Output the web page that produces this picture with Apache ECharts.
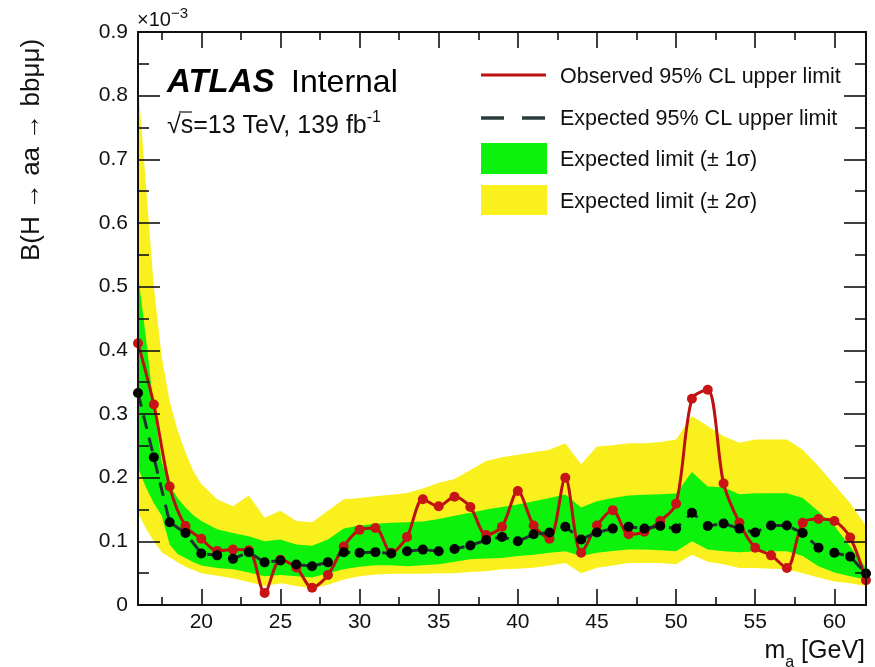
<!DOCTYPE html>
<html>
<head>
<meta charset="utf-8">
<script src="https://cdn.jsdelivr.net/npm/echarts@6/dist/echarts.min.js"></script>
<style>
  html, body { margin: 0; padding: 0; background: #ffffff; }
  #chart { width: 875px; height: 667px; }
</style>
</head>
<body>
<div id="chart"></div>
<script>
// Mass hypotheses (GeV) of the limit scan
const massPoints = [16, 17, 18, 19, 20, 21, 22, 23, 24, 25, 26, 27, 28, 29, 30, 31, 32, 33, 34, 35, 36, 37, 38, 39,
  40, 41, 42, 43, 44, 45, 46, 47, 48, 49, 50, 51, 52, 53, 54, 55, 56, 57, 58, 59, 60, 61, 62];

// Observed 95% CL upper limit on B(H -> aa -> bbmumu), in units of 1e-3
const observedLimit = [0.411, 0.315, 0.186, 0.124, 0.104, 0.085, 0.087, 0.086, 0.019, 0.071, 0.059, 0.027,
  0.047, 0.092, 0.118, 0.121, 0.082, 0.107, 0.166, 0.155, 0.170, 0.154, 0.110, 0.123, 0.179, 0.125, 0.104,
  0.200, 0.082, 0.125, 0.149, 0.111, 0.115, 0.132, 0.159, 0.324, 0.338, 0.191, 0.129, 0.090, 0.078, 0.058,
  0.129, 0.135, 0.132, 0.106, 0.039];

// Expected (median) 95% CL upper limit, in units of 1e-3
const expectedLimit = [0.333, 0.232, 0.130, 0.113, 0.081, 0.078, 0.0725, 0.083, 0.067, 0.070, 0.0636, 0.061,
  0.067, 0.083, 0.082, 0.083, 0.081, 0.0845, 0.087, 0.0845, 0.088, 0.0935, 0.102, 0.107, 0.100, 0.111, 0.114,
  0.123, 0.103, 0.114, 0.120, 0.123, 0.120, 0.124, 0.120, 0.145, 0.124, 0.128, 0.120, 0.114, 0.125, 0.125,
  0.113, 0.090, 0.082, 0.076, 0.0495];

// Mass grid of the uncertainty bands (finer at low mass)
const bandMass = [16, 16.5, 17, 17.5, 18, 18.5, 19, 19.5, 20, 21, 22, 23, 24, 25, 26, 27, 28, 29, 30, 31, 32, 33,
  34, 35, 36, 37, 38, 39, 40, 41, 42, 43, 44, 45, 46, 47, 48, 49, 50, 51, 52, 53, 54, 55, 56, 57, 58, 59, 60, 61, 62];

// +2 sigma edge of the expected limit
const band2Up = [0.82, 0.66, 0.50, 0.39, 0.32, 0.275, 0.24, 0.21, 0.19, 0.166, 0.155, 0.172, 0.137, 0.148, 0.132,
  0.130, 0.148, 0.166, 0.168, 0.171, 0.173, 0.176, 0.183, 0.192, 0.198, 0.212, 0.226, 0.232, 0.236, 0.240, 0.244,
  0.254, 0.221, 0.249, 0.251, 0.254, 0.254, 0.256, 0.260, 0.297, 0.281, 0.265, 0.255, 0.260, 0.260, 0.260, 0.244,
  0.218, 0.189, 0.160, 0.124];

// +1 sigma edge
const band1Up = [0.52, 0.42, 0.31, 0.225, 0.188, 0.168, 0.153, 0.141, 0.132, 0.119, 0.113, 0.108, 0.100, 0.103,
  0.095, 0.093, 0.103, 0.120, 0.125, 0.1275, 0.129, 0.130, 0.131, 0.135, 0.140, 0.145, 0.150, 0.154, 0.158, 0.163,
  0.168, 0.1735, 0.153, 0.163, 0.168, 0.172, 0.173, 0.174, 0.175, 0.209, 0.186, 0.185, 0.174, 0.1755, 0.1755,
  0.1755, 0.168, 0.147, 0.124, 0.092, 0.058];

// -1 sigma edge
const band1Down = [0.215, 0.185, 0.16, 0.14, 0.095, 0.08, 0.074, 0.067, 0.062, 0.058, 0.056, 0.051, 0.045, 0.047,
  0.045, 0.043, 0.050, 0.056, 0.060, 0.0625, 0.0625, 0.061, 0.0625, 0.064, 0.068, 0.072, 0.073, 0.074, 0.077,
  0.079, 0.082, 0.0845, 0.077, 0.082, 0.085, 0.087, 0.087, 0.086, 0.0845, 0.100, 0.087, 0.0845, 0.083, 0.0845,
  0.0845, 0.0845, 0.077, 0.061, 0.051, 0.045, 0.040];

// -2 sigma edge
const band2Down = [0.145, 0.12, 0.10, 0.083, 0.075, 0.067, 0.060, 0.055, 0.050, 0.046, 0.042, 0.036, 0.030, 0.034,
  0.030, 0.026, 0.032, 0.040, 0.045, 0.048, 0.049, 0.049, 0.049, 0.050, 0.050, 0.052, 0.053, 0.056, 0.057, 0.0585,
  0.062, 0.066, 0.050, 0.0585, 0.062, 0.066, 0.066, 0.066, 0.064, 0.079, 0.068, 0.064, 0.058, 0.058, 0.057, 0.056,
  0.050, 0.043, 0.037, 0.034, 0.030];

// Axis ticks
const xMajorTicks = [20, 25, 30, 35, 40, 45, 50, 55, 60];
const xMinorTicks = [17.5, 22.5, 27.5, 32.5, 37.5, 42.5, 47.5, 52.5, 57.5];
const yTickLabels = ['0', '0.1', '0.2', '0.3', '0.4', '0.5', '0.6', '0.7', '0.8', '0.9'];

const COLORS = {
  green: '#0cf20c',
  yellow: '#f9f01e',
  observed: '#bb1111',
  observedDot: '#c81414',
  expected: '#213131',
  ink: '#111111'
};
const FONT = 'Liberation Sans, Arial, Helvetica, sans-serif';

const pairs = (xs, ys) => xs.map((x, i) => [x, ys[i]]);

const X_MIN = 16, X_MAX = 62;

function xAxisDef(position, ticks, len, withLine, withLabels) {
  return {
    type: 'value', position, min: X_MIN, max: X_MAX, z: 10,
    splitLine: { show: false },
    axisLine: { show: withLine, onZero: false, lineStyle: { color: COLORS.ink, width: 2 } },
    axisTick: { show: true, inside: true, length: len, customValues: ticks,
      lineStyle: { color: COLORS.ink, width: 1.6 } },
    axisLabel: withLabels
      ? { show: true, customValues: ticks, color: COLORS.ink, fontSize: 21, fontFamily: FONT, margin: 7 }
      : { show: false }
  };
}

function yAxisDef(position, withLabels) {
  return {
    type: 'value', position, min: 0, max: 0.9, interval: 0.1, z: 10,
    splitLine: { show: false },
    axisLine: { show: true, onZero: false, lineStyle: { color: COLORS.ink, width: 2 } },
    axisTick: { show: true, inside: true, length: 22, lineStyle: { color: COLORS.ink, width: 1.6 } },
    minorTick: { show: true, splitNumber: 2, length: 11, lineStyle: { color: COLORS.ink, width: 1.6 } },
    axisLabel: withLabels
      ? { show: true, color: COLORS.ink, fontSize: 21, fontFamily: FONT, margin: 10,
          formatter: (v) => yTickLabels[Math.round(v * 10)] }
      : { show: false }
  };
}

// A filled band between a lower and an upper edge, drawn as one polygon
// whose vertices come from the cartesian scales.
function bandSeries(name, lower, upper, color) {
  return {
    name, type: 'custom', silent: true, z: 1,
    data: bandMass.map((m, i) => [m, lower[i], upper[i]]),
    encode: { x: 0, y: [1, 2] },
    renderItem: (params, api) => {
      if (params.dataIndex !== 0) return null;
      const pts = [];
      for (let i = 0; i < bandMass.length; i++) pts.push(api.coord([bandMass[i], upper[i]]));
      for (let i = bandMass.length - 1; i >= 0; i--) pts.push(api.coord([bandMass[i], lower[i]]));
      return { type: 'polygon', shape: { points: pts }, style: { fill: color, stroke: null } };
    }
  };
}

const option = {
  animation: false,
  backgroundColor: '#ffffff',
  grid: { left: 138, right: 9, top: 32, bottom: 62, containLabel: false },
  xAxis: [
    xAxisDef('bottom', xMajorTicks, 16, true, true),
    xAxisDef('bottom', xMinorTicks, 8, false, false),
    xAxisDef('top', xMajorTicks, 16, true, false),
    xAxisDef('top', xMinorTicks, 8, false, false)
  ],
  yAxis: [yAxisDef('left', true), yAxisDef('right', false)],
  series: [
    bandSeries('Expected limit (± 2σ)', band2Down, band2Up, COLORS.yellow),
    bandSeries('Expected limit (± 1σ)', band1Down, band1Up, COLORS.green),
    {
      name: 'Observed 95% CL upper limit', type: 'line',
      data: pairs(massPoints, observedLimit),
      smooth: 0.3, symbol: 'circle', symbolSize: 10,
      lineStyle: { color: COLORS.observed, width: 3 },
      itemStyle: { color: COLORS.observedDot },
      z: 3
    },
    {
      name: 'Expected 95% CL upper limit', type: 'line',
      data: pairs(massPoints, expectedLimit),
      smooth: false, symbol: 'circle', symbolSize: 10,
      lineStyle: { color: COLORS.expected, width: 3, type: [14, 9] },
      itemStyle: { color: '#000000' },
      z: 4
    }
  ],
  graphic: [
    // exponent of the y axis
    { type: 'text', left: 137, top: 6, z: 10,
      style: { text: '{b|×10}{s|−3}', fill: COLORS.ink, fontFamily: FONT,
        rich: { b: { fontSize: 20, fontFamily: FONT, fill: COLORS.ink, verticalAlign: 'bottom', lineHeight: 24 },
                s: { fontSize: 15, fontFamily: FONT, fill: COLORS.ink, verticalAlign: 'top', lineHeight: 24 } } } },
    // experiment label
    { type: 'text', x: 167, y: 99, z: 10,
      style: { text: 'ATLAS', fill: '#000', fontFamily: FONT, fontSize: 33, fontWeight: 'bold', fontStyle: 'italic',
        textVerticalAlign: 'bottom' } },
    { type: 'text', x: 291, y: 99, z: 10,
      style: { text: 'Internal', fill: '#000', fontFamily: FONT, fontSize: 32, textVerticalAlign: 'bottom' } },
    { type: 'text', x: 167, y: 139, z: 10,
      style: { text: '{n|√s=13 TeV, 139 fb}{s|-1}', fill: COLORS.ink, textVerticalAlign: 'bottom',
        rich: { n: { fontSize: 25, fontFamily: FONT, fill: COLORS.ink, verticalAlign: 'bottom', lineHeight: 29 },
                s: { fontSize: 16, fontFamily: FONT, fill: COLORS.ink, verticalAlign: 'top', lineHeight: 29 } } } },
    { type: 'line', z: 10, shape: { x1: 179, y1: 112, x2: 192, y2: 112 }, style: { stroke: COLORS.ink, lineWidth: 1.2 } },
    // legend
    { type: 'line', z: 10, shape: { x1: 481, y1: 75, x2: 546, y2: 75 },
      style: { stroke: COLORS.observed, lineWidth: 3 } },
    { type: 'line', z: 10, shape: { x1: 481, y1: 118, x2: 546, y2: 118 },
      style: { stroke: '#2c3c3c', lineWidth: 3.5, lineDash: [23, 18] } },
    { type: 'rect', z: 10, shape: { x: 481, y: 143, width: 66, height: 31 }, style: { fill: COLORS.green } },
    { type: 'rect', z: 10, shape: { x: 481, y: 185, width: 66, height: 30 }, style: { fill: COLORS.yellow } },
    { type: 'text', x: 560, y: 77, z: 10,
      style: { text: 'Observed 95% CL upper limit', fill: COLORS.ink, fontFamily: FONT, fontSize: 21.5, textVerticalAlign: 'middle' } },
    { type: 'text', x: 560, y: 119, z: 10,
      style: { text: 'Expected 95% CL upper limit', fill: COLORS.ink, fontFamily: FONT, fontSize: 21.5, textVerticalAlign: 'middle' } },
    { type: 'text', x: 560, y: 160, z: 10,
      style: { text: 'Expected limit (± 1σ)', fill: COLORS.ink, fontFamily: FONT, fontSize: 21.5, textVerticalAlign: 'middle' } },
    { type: 'text', x: 560, y: 202, z: 10,
      style: { text: 'Expected limit (± 2σ)', fill: COLORS.ink, fontFamily: FONT, fontSize: 21.5, textVerticalAlign: 'middle' } },
    // axis titles
    { type: 'text', z: 10, x: 865, y: 671,
      style: { text: '{m|m}{a|a}{m| [GeV]}', textAlign: 'right', textVerticalAlign: 'bottom',
        rich: { m: { fontSize: 25, fontFamily: FONT, fill: COLORS.ink, verticalAlign: 'top', lineHeight: 28 },
                a: { fontSize: 16, fontFamily: FONT, fill: COLORS.ink, verticalAlign: 'bottom', lineHeight: 32 } } } },
    { type: 'text', z: 10, x: 32, y: 150, rotation: Math.PI / 2,
      style: { text: 'B(H → aa → bbμμ)', fill: COLORS.ink, fontFamily: FONT, fontSize: 26,
        textAlign: 'center', textVerticalAlign: 'middle' } }
  ]
};

const chart = echarts.init(document.getElementById('chart'), null, { renderer: 'canvas' });
chart.setOption(option);
</script>
</body>
</html>
